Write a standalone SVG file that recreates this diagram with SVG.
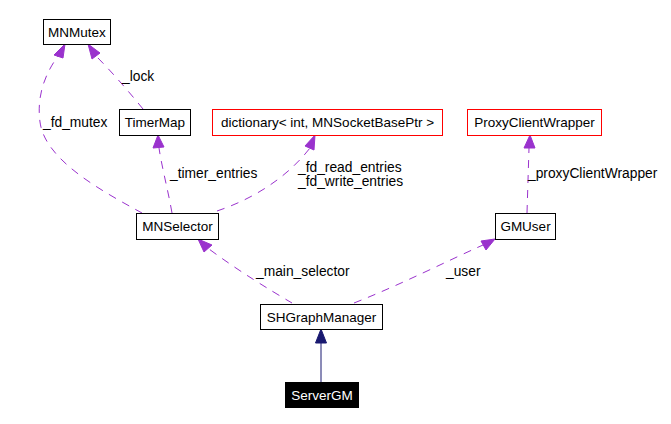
<svg xmlns="http://www.w3.org/2000/svg" width="671" height="424" viewBox="0 0 671 424">
<style>
.box{fill:#fff;stroke:#000;stroke-width:1}
.red{fill:#fff;stroke:#f00;stroke-width:1}
.t{font-family:"Liberation Sans",Arial,sans-serif;font-size:13.5px;fill:#000;text-anchor:middle}
.lbl{font-family:"Liberation Sans",Arial,sans-serif;font-size:13.8px;fill:#000}
.e{fill:none;stroke:#9a32cd;stroke-width:1;stroke-dasharray:8,7}
.ah{fill:#9a32cd;stroke:#9a32cd}
</style>
<rect width="671" height="424" fill="#fff"/>
<g id="connectors">
  <path class="e" d="M142,213 C100,190 45,160 40,122 C36,92 48,70 58,56"/>
  <polygon class="ah" points="65,44 54,55 63,58"/>
  <path class="e" d="M143,109 C130,93 112,72 96,56"/>
  <polygon class="ah" points="88,44 92,59 100,53"/>
  <path class="e" d="M172,213 C168,190 162,168 159,148"/>
  <polygon class="ah" points="158,135 153,148 164,147"/>
  <path class="e" d="M217,211 C250,200 285,180 310,148"/>
  <polygon class="ah" points="315,135 305,146 314,150"/>
  <path class="e" d="M527,213 L529,148"/>
  <polygon class="ah" points="530,135 524,148 535,148"/>
  <path class="e" d="M292,303 C270,290 240,272 209,249"/>
  <polygon class="ah" points="198,239 204,252 212,245"/>
  <path class="e" d="M354,303 C400,285 445,262 483,245"/>
  <polygon class="ah" points="495,239 481,241 486,250"/>
  <line x1="321" y1="382" x2="321" y2="342" stroke="#191970" stroke-width="1"/>
  <polygon points="321,329 315.5,343 326.5,343" fill="#191970" stroke="#191970"/>
  <text class="lbl" x="43" y="127">_fd_mutex</text>
  <text class="lbl" x="122" y="81">_lock</text>
  <text class="lbl" x="170" y="178">_timer_entries</text>
  <text class="lbl" x="298" y="172">_fd_read_entries</text>
  <text class="lbl" x="298" y="186">_fd_write_entries</text>
  <text class="lbl" x="528" y="178">_proxyClientWrapper</text>
  <text class="lbl" x="256" y="276">_main_selector</text>
  <text class="lbl" x="446" y="276">_user</text>
</g>
<g id="MNMutex"><rect class="box" x="43.5" y="19.5" width="67" height="25"/><text class="t" x="77" y="36.5">MNMutex</text></g>
<g id="TimerMap"><rect class="box" x="119.5" y="109.5" width="71" height="26"/><text class="t" x="155" y="127">TimerMap</text></g>
<g id="dictionary"><rect class="red" x="212.5" y="109.5" width="230" height="26"/><text class="t" x="327.5" y="127">dictionary&lt; int, MNSocketBasePtr &gt;</text></g>
<g id="ProxyClientWrapper"><rect class="red" x="467.5" y="109.5" width="134" height="26"/><text class="t" x="534.5" y="127">ProxyClientWrapper</text></g>
<g id="MNSelector"><rect class="box" x="136.5" y="213.5" width="82" height="26"/><text class="t" x="177.5" y="231">MNSelector</text></g>
<g id="GMUser"><rect class="box" x="495.5" y="213.5" width="60" height="26"/><text class="t" x="525.5" y="231">GMUser</text></g>
<g id="SHGraphManager"><rect class="box" x="260.5" y="304.5" width="122" height="25"/><text class="t" x="321.5" y="321.5">SHGraphManager</text></g>
<g id="ServerGM"><rect x="285.5" y="382.5" width="73" height="25" fill="#000" stroke="#000"/><text class="t" x="322" y="399.5" style="fill:#fff">ServerGM</text></g>
</svg>
